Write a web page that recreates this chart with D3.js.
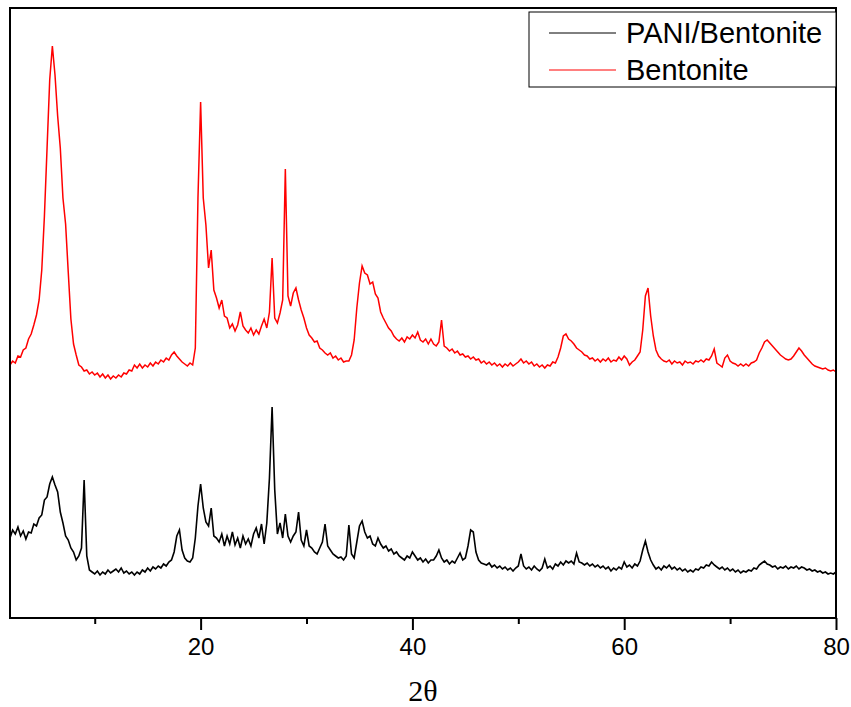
<!DOCTYPE html>
<html>
<script src="https://d3js.org/d3.v7.min.js"></script>
<style>
  body{
    margin: 0;
    background-color: white;
  }
  .tick text{
    font-family: "Liberation Sans", Arial, sans-serif;
  }
</style>
<body>
<script>

// sampled 2theta grid: 2..80 deg, step 0.25
const thetaStart = 2, thetaStep = 0.25;

// Bentonite (red), intensity a.u.
const bentonite = [
253,257,255,262,261,268,270,279,284,293,303,318,348,402,470,538,572,543,502,470,
420,394,346,299,274,263,253,251,247,248,244,246,243,245,241,244,240,243,239,242,
240,243,241,245,244,248,247,253,250,254,250,253,251,255,252,256,254,258,256,260,
258,263,266,262,259,256,254,252,255,253,270,420,516,420,393,350,368,328,320,310,
318,302,300,290,294,287,293,306,292,288,285,290,283,288,284,292,299,290,306,360,
300,295,305,318,449,322,312,325,330,318,308,300,290,283,280,276,277,270,268,265,
263,265,260,262,258,260,256,257,257,263,278,310,335,352,345,343,334,336,324,320,
306,300,295,290,287,282,279,277,280,276,281,279,283,280,286,278,276,279,274,279,
274,272,276,298,272,270,267,269,265,267,263,264,261,262,259,261,258,259,255,257,
254,256,253,255,252,254,251,254,252,255,252,254,256,259,255,257,254,256,252,254,
251,253,250,253,252,256,255,261,270,282,284,279,277,274,270,268,266,263,262,259,
260,257,259,256,259,257,260,256,258,257,261,258,262,259,253,256,258,262,266,288,
322,330,302,282,268,262,259,257,256,258,254,257,255,256,253,257,255,256,254,257,
256,258,256,259,258,262,269,255,253,251,260,263,257,255,254,252,254,252,254,252,
255,256,258,265,270,276,278,275,272,269,266,263,261,259,258,259,262,266,270,267,
263,260,257,254,252,251,250,249,250,248,247,248,246
];

// PANI/Bentonite (black), intensity a.u.
const paniBentonite = [
80,88,84,91,82,87,79,86,85,94,92,100,103,118,121,134,141,133,126,106,
95,82,78,70,66,58,62,70,138,62,48,46,44,47,43,46,44,48,45,47,
49,46,50,45,47,44,46,43,46,44,48,46,50,47,51,49,52,50,54,52,
56,58,66,82,88,68,60,57,56,60,80,112,134,110,96,92,110,82,80,76,
84,72,82,74,86,73,80,70,82,74,79,72,84,90,80,94,74,95,140,211,
128,84,95,80,104,82,76,82,86,106,78,72,88,72,70,66,64,70,76,94,
72,68,64,62,60,61,58,62,93,64,60,76,92,97,86,80,82,74,72,80,
74,70,72,67,69,64,66,62,60,58,62,60,66,62,58,60,56,59,55,58,
58,62,68,60,56,58,54,57,55,60,65,58,60,72,88,86,66,58,55,54,
53,55,51,53,50,52,49,51,48,50,47,50,52,64,52,49,51,48,52,49,
47,50,59,50,52,49,54,52,56,53,57,55,57,54,65,56,55,53,55,52,
54,51,53,50,52,49,51,47,50,48,51,49,56,51,53,50,54,52,57,68,
77,66,58,53,49,51,48,52,50,53,49,51,48,50,47,49,46,48,46,49,
48,51,50,53,52,56,53,51,49,51,48,50,47,49,46,48,45,47,46,48,
47,50,49,53,55,57,54,53,51,52,49,51,50,52,49,51,50,52,49,51,
50,48,49,47,48,46,47,45,46,44,45,44,46
];

const majorTicks = [20, 40, 60, 80];
const minorTicks = [10, 30, 50, 70];
const legendNames = ["PANI/Bentonite", "Bentonite"];
const legendColors = ["#000000", "#ff0000"];

const width = 851;
const height = 707;

const svg = d3.select("body").append("svg").attr("width", width).attr("height", height);

var xscale = d3.scaleLinear().domain([2, 80]).range([10, 836]);
var yscale = d3.scaleLinear().domain([0, 610]).range([618, 8]);

function toPoints(arr){
  return arr.map((v, i) => [thetaStart + i * thetaStep, v]);
}

var line = d3.line().x(d => xscale(d[0])).y(d => yscale(d[1]));

// curves
svg.append("path")
  .datum(toPoints(paniBentonite))
  .attr("d", line)
  .attr("fill", "none")
  .attr("stroke", "#000")
  .attr("stroke-width", 1.6);

svg.append("path")
  .datum(toPoints(bentonite))
  .attr("d", line)
  .attr("fill", "none")
  .attr("stroke", "#ff0000")
  .attr("stroke-width", 1.5);

// frame
svg.append("rect")
  .attr("x", 10).attr("y", 8)
  .attr("width", 826).attr("height", 610)
  .attr("fill", "none")
  .attr("stroke", "#000")
  .attr("stroke-width", 2);

// x axis, major + minor ticks
svg.append("g")
  .attr("transform", "translate(0,618)")
  .call(d3.axisBottom(xscale).tickValues(minorTicks).tickSize(6).tickFormat(""))
  .call(g => g.select(".domain").remove())
  .selectAll("line").attr("stroke-width", 2);

var xAxis = svg.append("g")
  .attr("transform", "translate(0,618)")
  .call(d3.axisBottom(xscale).tickValues(majorTicks).tickSize(12).tickPadding(8))
  .call(g => g.select(".domain").remove());
xAxis.selectAll("line").attr("stroke-width", 2);
xAxis.selectAll("text")
  .attr("font-size", 24)
  .attr("fill", "#000")
  .style("font-family", "'Liberation Sans', Arial, sans-serif");

svg.append("text")
  .attr("x", 423)
  .attr("y", 701)
  .attr("text-anchor", "middle")
  .attr("font-size", 30)
  .style("font-family", "'Liberation Serif', 'Times New Roman', serif")
  .text("2θ");

// legend
var legend = svg.append("g");
legend.append("rect")
  .attr("x", 529).attr("y", 12)
  .attr("width", 307).attr("height", 75)
  .attr("fill", "white")
  .attr("stroke", "#000")
  .attr("stroke-width", 1);

legendNames.forEach(function(name, i){
  var ly = 33 + i * 37;
  legend.append("line")
    .attr("x1", 549).attr("x2", 616)
    .attr("y1", ly).attr("y2", ly)
    .attr("stroke", legendColors[i])
    .attr("stroke-width", 1);
  legend.append("text")
    .attr("x", 626)
    .attr("y", ly + 10)
    .attr("font-size", 29)
    .style("font-family", "'Liberation Sans', Arial, sans-serif")
    .text(name);
});

</script>
</body>
</html>
